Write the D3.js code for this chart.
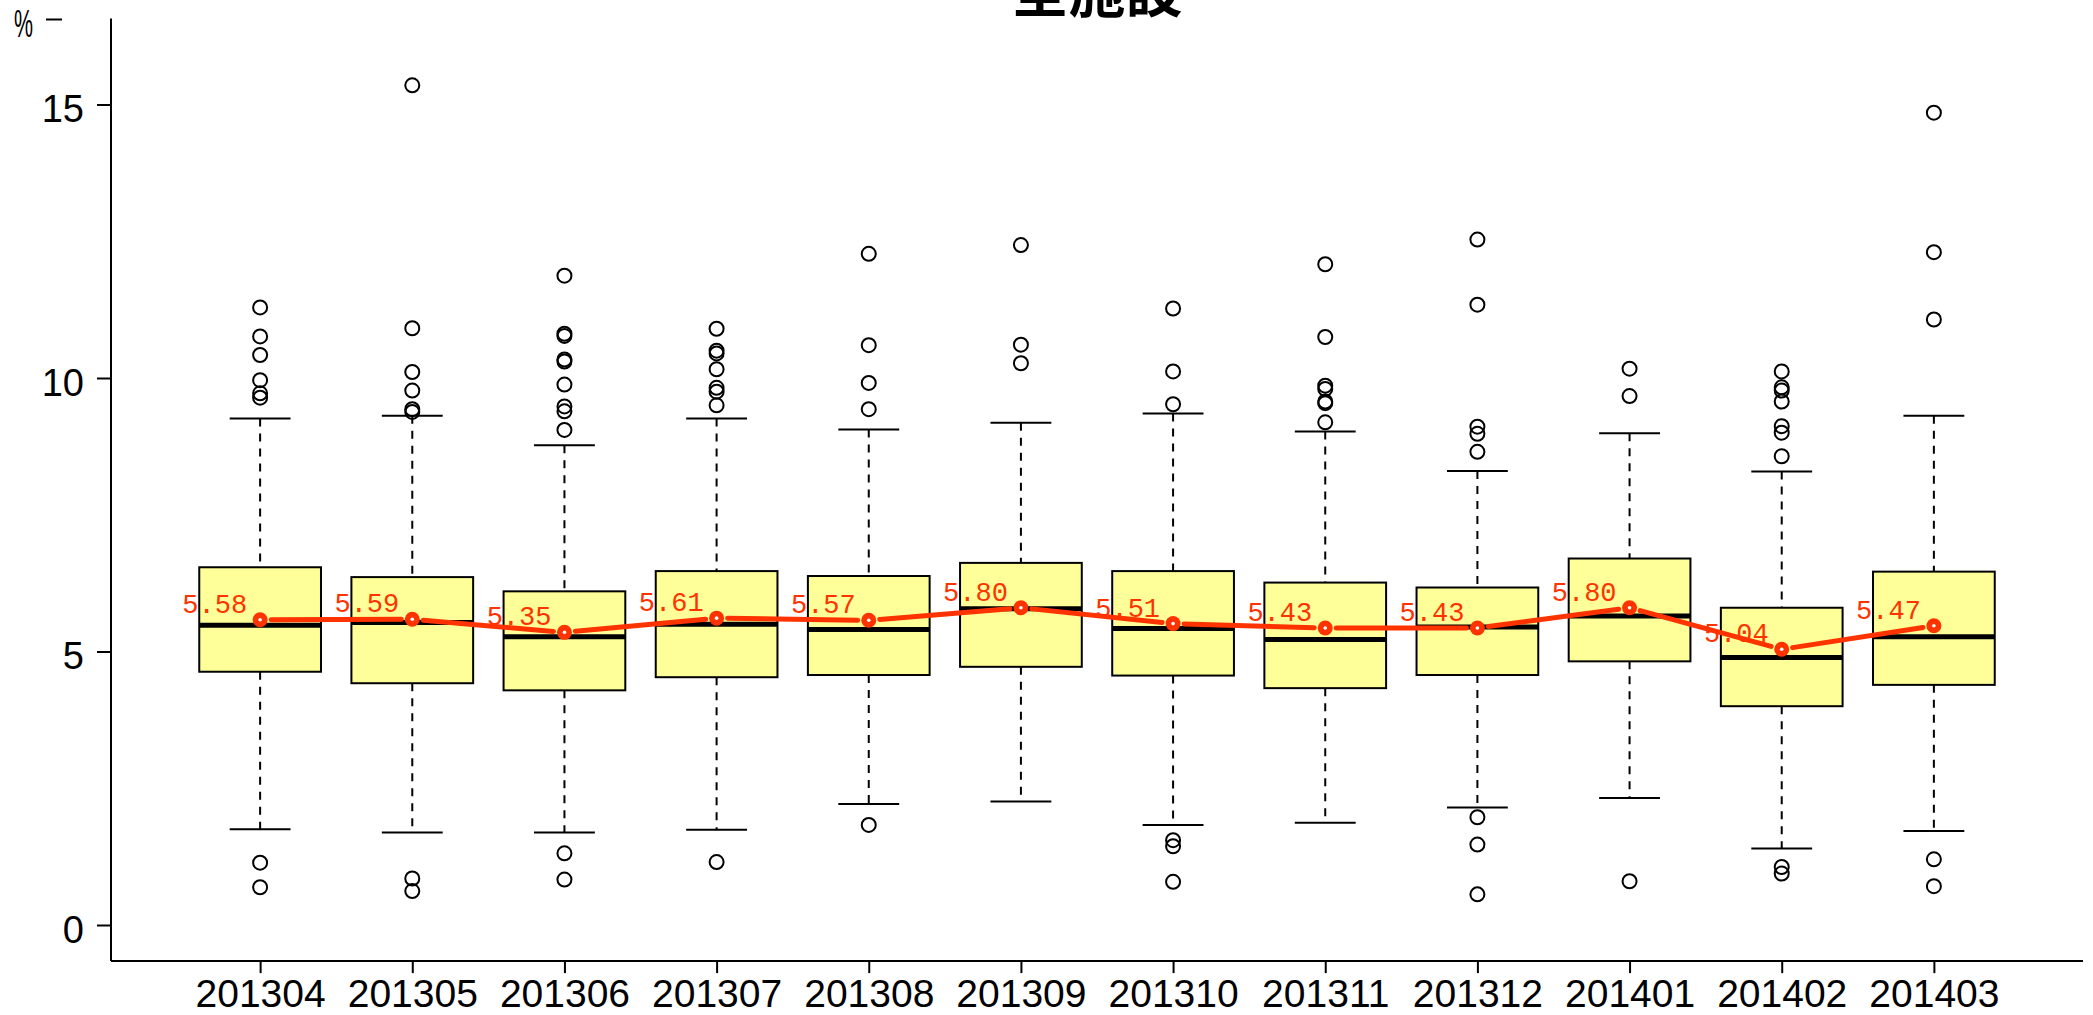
<!DOCTYPE html>
<html>
<head>
<meta charset="utf-8">
<script src="https://cdn.jsdelivr.net/npm/d3@7"></script>
<style>
  html, body { margin: 0; padding: 0; background: #fff; }
  svg { display: block; }
</style>
</head>
<body>
<svg id="chart" width="2093" height="1015"></svg>
<script>
// ---------- data ----------
const categories = ["201304","201305","201306","201307","201308","201309","201310","201311","201312","201401","201402","201403"];
const whiskerLow  = [1.75, 1.69, 1.69, 1.74, 2.21, 2.26, 1.83, 1.87, 2.15, 2.32, 1.40, 1.72];
const q1Values    = [4.63, 4.42, 4.29, 4.53, 4.57, 4.72, 4.56, 4.33, 4.57, 4.82, 4.00, 4.39];
const medians     = [5.48, 5.53, 5.27, 5.50, 5.40, 5.78, 5.42, 5.22, 5.45, 5.65, 4.89, 5.27];
const q3Values    = [6.54, 6.36, 6.10, 6.47, 6.38, 6.62, 6.47, 6.26, 6.17, 6.70, 5.80, 6.46];
const whiskerHigh = [9.26, 9.31, 8.77, 9.26, 9.06, 9.18, 9.35, 9.02, 8.30, 8.99, 8.29, 9.31];
const means       = [5.58, 5.59, 5.35, 5.61, 5.57, 5.80, 5.51, 5.43, 5.43, 5.80, 5.04, 5.47];
const outliers = [
  [11.29, 10.76, 10.42, 9.96, 9.72, 9.64, 1.14, 0.69],
  [15.35, 10.91, 10.11, 9.77, 9.43, 9.38, 0.85, 0.62],
  [11.87, 10.81, 10.77, 10.34, 10.30, 9.88, 9.48, 9.39, 9.05, 1.31, 0.83],
  [10.90, 10.50, 10.45, 10.16, 9.82, 9.75, 9.50, 1.15],
  [12.27, 10.60, 9.91, 9.43, 1.83],
  [12.43, 10.61, 10.27],
  [11.27, 10.12, 9.52, 1.55, 1.44, 0.79],
  [12.08, 10.75, 9.86, 9.80, 9.57, 9.54, 9.19],
  [12.53, 11.34, 9.11, 8.98, 8.65, 1.97, 1.47, 0.56],
  [10.17, 9.67, 0.80],
  [10.12, 9.83, 9.77, 9.57, 9.12, 9.00, 8.57, 1.06, 0.94],
  [14.85, 12.30, 11.07, 1.20, 0.71]
];
const yTicks = [0, 5, 10, 15];
const title = "全施設";
const yUnit = "%";

// ---------- layout ----------
const svg = d3.select("#chart");
const plotLeft = 111, plotRight = 2083;
const y = d3.scaleLinear().domain([0, 15]).range([925, 104.5]);
const yMin = -0.66, yMax = 16.57;
const x = d3.scalePoint().domain(categories).range([plotLeft, plotRight]).padding(0.98);
const step = x.step();
const boxW = step * 0.8, capW = step * 0.4;

const red = "#ff3300";
const sans = "'Liberation Sans', Arial, Helvetica, sans-serif";

const rows = categories.map((c, i) => ({
  c, lo: whiskerLow[i], q1: q1Values[i], med: medians[i], q3: q3Values[i],
  hi: whiskerHigh[i], mean: means[i], out: outliers[i]
}));

// title
svg.append("text")
  .attr("x", (plotLeft + plotRight) / 2).attr("y", 12)
  .attr("text-anchor", "middle")
  .attr("font-family", "'Noto Sans CJK JP', 'Noto Sans CJK SC', sans-serif")
  .attr("font-weight", "bold").attr("font-size", 57)
  .text(title);

// unit label
svg.append("text")
  .attr("x", 14).attr("y", 37)
  .attr("font-family", sans).attr("font-size", 38)
  .attr("textLength", 19).attr("lengthAdjust", "spacingAndGlyphs")
  .text(yUnit);
svg.append("line")
  .attr("x1", 46).attr("x2", 62).attr("y1", 19.5).attr("y2", 19.5)
  .attr("stroke", "#000").attr("stroke-width", 2);

// axes
const yAxis = d3.axisLeft(y).tickValues(yTicks).tickSize(14).tickPadding(13).tickFormat(d3.format("d"));
const gy = svg.append("g").attr("transform", `translate(${plotLeft},0)`).call(yAxis);
gy.select(".domain").remove();
gy.selectAll(".tick line").attr("stroke-width", 2);
gy.selectAll(".tick text").attr("font-family", sans).attr("font-size", 38).attr("dy", "0.46em").attr("fill", "#000");
svg.append("line")
  .attr("x1", plotLeft).attr("x2", plotLeft).attr("y1", y(yMax)).attr("y2", y(yMin))
  .attr("stroke", "#000").attr("stroke-width", 2);

const xAxis = d3.axisBottom(x).tickSize(12).tickPadding(6);
const gx = svg.append("g").attr("transform", `translate(0,${y(yMin)})`).call(xAxis);
gx.select(".domain").remove();
gx.selectAll(".tick line").attr("stroke-width", 2);
gx.selectAll(".tick text").attr("font-family", sans).attr("font-size", 39)
  .attr("y", 1007 - y(yMin)).attr("dy", 0).attr("fill", "#000");
svg.append("line")
  .attr("x1", plotLeft).attr("x2", plotRight).attr("y1", y(yMin)).attr("y2", y(yMin))
  .attr("stroke", "#000").attr("stroke-width", 2);

// boxes
const g = svg.append("g");
const bx = g.selectAll("g.box").data(rows).join("g").attr("class", "box");
// whiskers (dashed)
bx.append("line")
  .attr("x1", d => x(d.c)).attr("x2", d => x(d.c))
  .attr("y1", d => y(d.hi)).attr("y2", d => y(d.q3))
  .attr("stroke", "#000").attr("stroke-width", 2).attr("stroke-dasharray", "8,7");
bx.append("line")
  .attr("x1", d => x(d.c)).attr("x2", d => x(d.c))
  .attr("y1", d => y(d.q1)).attr("y2", d => y(d.lo))
  .attr("stroke", "#000").attr("stroke-width", 2).attr("stroke-dasharray", "8,7");
// caps
["hi", "lo"].forEach(k => {
  bx.append("line")
    .attr("x1", d => x(d.c) - capW / 2).attr("x2", d => x(d.c) + capW / 2)
    .attr("y1", d => y(d[k])).attr("y2", d => y(d[k]))
    .attr("stroke", "#000").attr("stroke-width", 2);
});
// box
bx.append("rect")
  .attr("x", d => x(d.c) - boxW / 2).attr("width", boxW)
  .attr("y", d => y(d.q3)).attr("height", d => y(d.q1) - y(d.q3))
  .attr("fill", "#ffff99").attr("stroke", "#000").attr("stroke-width", 2);
// median
bx.append("line")
  .attr("x1", d => x(d.c) - boxW / 2).attr("x2", d => x(d.c) + boxW / 2)
  .attr("y1", d => y(d.med)).attr("y2", d => y(d.med))
  .attr("stroke", "#000").attr("stroke-width", 5);
// outliers
bx.selectAll("circle.out").data(d => d.out.map(v => ({ c: d.c, v }))).join("circle")
  .attr("class", "out")
  .attr("cx", d => x(d.c)).attr("cy", d => y(d.v)).attr("r", 7)
  .attr("fill", "none").attr("stroke", "#000").attr("stroke-width", 2);

// mean line (type "b": segments with gaps around points)
const gap = 11;
const pts = rows.map(d => [x(d.c), y(d.mean)]);
const segs = d3.pairs(pts).map(([a, b]) => {
  const dx = b[0] - a[0], dy = b[1] - a[1], L = Math.hypot(dx, dy);
  const ux = dx / L, uy = dy / L;
  return [[a[0] + ux * gap, a[1] + uy * gap], [b[0] - ux * gap, b[1] - uy * gap]];
});
svg.append("g").selectAll("path").data(segs).join("path")
  .attr("d", d => d3.line()(d))
  .attr("stroke", red).attr("stroke-width", 5).attr("fill", "none").attr("stroke-linecap", "round");
const mp = svg.append("g").selectAll("g").data(rows).join("g");
mp.append("circle")
  .attr("cx", d => x(d.c)).attr("cy", d => y(d.mean)).attr("r", 7.5).attr("fill", red);
mp.append("circle")
  .attr("cx", d => x(d.c)).attr("cy", d => y(d.mean)).attr("r", 1.8).attr("fill", "#fff");
mp.append("text")
  .attr("x", d => x(d.c) - 13).attr("y", d => y(d.mean) - 7)
  .attr("text-anchor", "end")
  .attr("font-family", "'Liberation Mono', 'DejaVu Sans Mono', monospace")
  .attr("font-size", 27).attr("fill", red)
  .text(d => d3.format(".2f")(d.mean));
</script>
</body>
</html>
